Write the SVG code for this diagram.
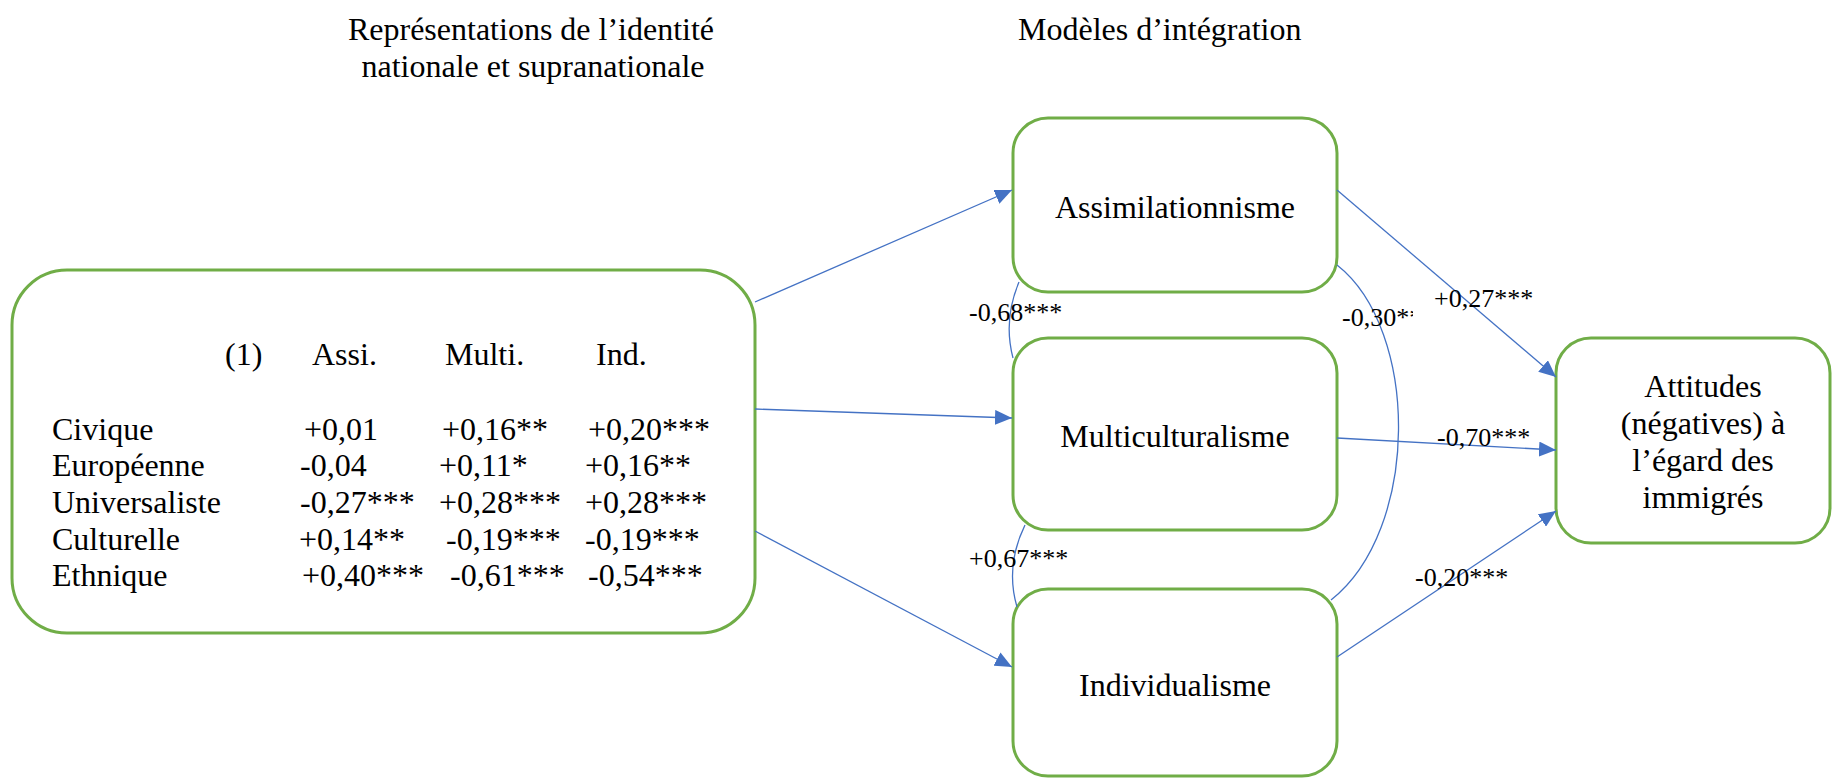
<svg xmlns="http://www.w3.org/2000/svg" width="1832" height="778" viewBox="0 0 1832 778">
<style>
  .box{fill:#fff;stroke:#70AD47;stroke-width:3}
  .t{font-family:"Liberation Serif","Times New Roman",serif;font-size:32px;fill:#000}
  .c{text-anchor:middle}
  .lab{font-family:"Liberation Serif","Times New Roman",serif;font-size:26px;fill:#000}
  .ln{fill:none;stroke:#4472C4;stroke-width:1.3}
</style>
<defs>
  <marker id="arr" markerUnits="userSpaceOnUse" markerWidth="19" markerHeight="15" refX="17" refY="7.5" orient="auto">
    <path d="M0,0 L17,7.5 L0,15 z" fill="#4472C4"/>
  </marker>
  <clipPath id="clip30"><rect x="1330" y="292" width="83" height="46"/></clipPath>
</defs>
<rect width="1832" height="778" fill="#fff"/>

<g id="titles">
  <text class="t c" x="531" y="40">Représentations de l’identité</text>
  <text class="t c" x="533" y="77">nationale et supranationale</text>
  <text class="t" x="1018" y="40">Modèles d’intégration</text>
</g>

<g id="node-identity">
  <rect class="box" x="12" y="270" width="743" height="363" rx="55" ry="55"/>
  <text class="t" x="225" y="365">(1)</text>
  <text class="t" x="312" y="365">Assi.</text>
  <text class="t" x="445" y="365">Multi.</text>
  <text class="t" x="596" y="365">Ind.</text>
  <text class="t" x="52" y="440">Civique</text>
  <text class="t" x="304" y="440">+0,01</text>
  <text class="t" x="442" y="440">+0,16**</text>
  <text class="t" x="588" y="440">+0,20***</text>
  <text class="t" x="52" y="476">Européenne</text>
  <text class="t" x="300" y="476">-0,04</text>
  <text class="t" x="439" y="476">+0,11*</text>
  <text class="t" x="585" y="476">+0,16**</text>
  <text class="t" x="52" y="513">Universaliste</text>
  <text class="t" x="300" y="513">-0,27***</text>
  <text class="t" x="439" y="513">+0,28***</text>
  <text class="t" x="585" y="513">+0,28***</text>
  <text class="t" x="52" y="550">Culturelle</text>
  <text class="t" x="299" y="550">+0,14**</text>
  <text class="t" x="446" y="550">-0,19***</text>
  <text class="t" x="585" y="550">-0,19***</text>
  <text class="t" x="52" y="586">Ethnique</text>
  <text class="t" x="302" y="586">+0,40***</text>
  <text class="t" x="450" y="586">-0,61***</text>
  <text class="t" x="588" y="586">-0,54***</text>
</g>

<g id="node-assimilation">
  <rect class="box" x="1013" y="118" width="324" height="174" rx="35" ry="35"/>
  <text class="t c" x="1175" y="218">Assimilationnisme</text>
</g>

<g id="node-multiculturalism">
  <rect class="box" x="1013" y="338" width="324" height="192" rx="35" ry="35"/>
  <text class="t c" x="1175" y="447">Multiculturalisme</text>
</g>

<g id="node-individualism">
  <rect class="box" x="1013" y="589" width="324" height="187" rx="35" ry="35"/>
  <text class="t c" x="1175" y="696">Individualisme</text>
</g>

<g id="node-attitudes">
  <rect class="box" x="1556" y="338" width="274" height="205" rx="35" ry="35"/>
  <text class="t c" x="1703" y="397">Attitudes</text>
  <text class="t c" x="1703" y="434">(négatives) à</text>
  <text class="t c" x="1703" y="471">l’égard des</text>
  <text class="t c" x="1703" y="508">immigrés</text>
</g>

<g id="connectors">
  <line class="ln" x1="755" y1="302" x2="1012" y2="190" marker-end="url(#arr)"/>
  <line class="ln" x1="755" y1="409" x2="1012" y2="418" marker-end="url(#arr)"/>
  <line class="ln" x1="755" y1="531" x2="1012" y2="667" marker-end="url(#arr)"/>
  <line class="ln" x1="1337" y1="190" x2="1556" y2="377" marker-end="url(#arr)"/>
  <line class="ln" x1="1337" y1="438" x2="1556" y2="450" marker-end="url(#arr)"/>
  <line class="ln" x1="1337" y1="657" x2="1556" y2="511" marker-end="url(#arr)"/>
  <path class="ln" d="M1019,282 Q1003,320 1013,358"/>
  <path class="ln" d="M1025,525 Q1005,566 1017,607"/>
  <path class="ln" d="M1337,265 C1420,330 1420,530 1331,600"/>
  <text class="lab" x="969" y="321">-0,68***</text>
  <text class="lab" x="969" y="567">+0,67***</text>
  <text class="lab" x="1342" y="326" clip-path="url(#clip30)">-0,30***</text>
  <text class="lab" x="1434" y="307">+0,27***</text>
  <text class="lab" x="1437" y="446">-0,70***</text>
  <text class="lab" x="1415" y="586">-0,20***</text>
</g>
</svg>
